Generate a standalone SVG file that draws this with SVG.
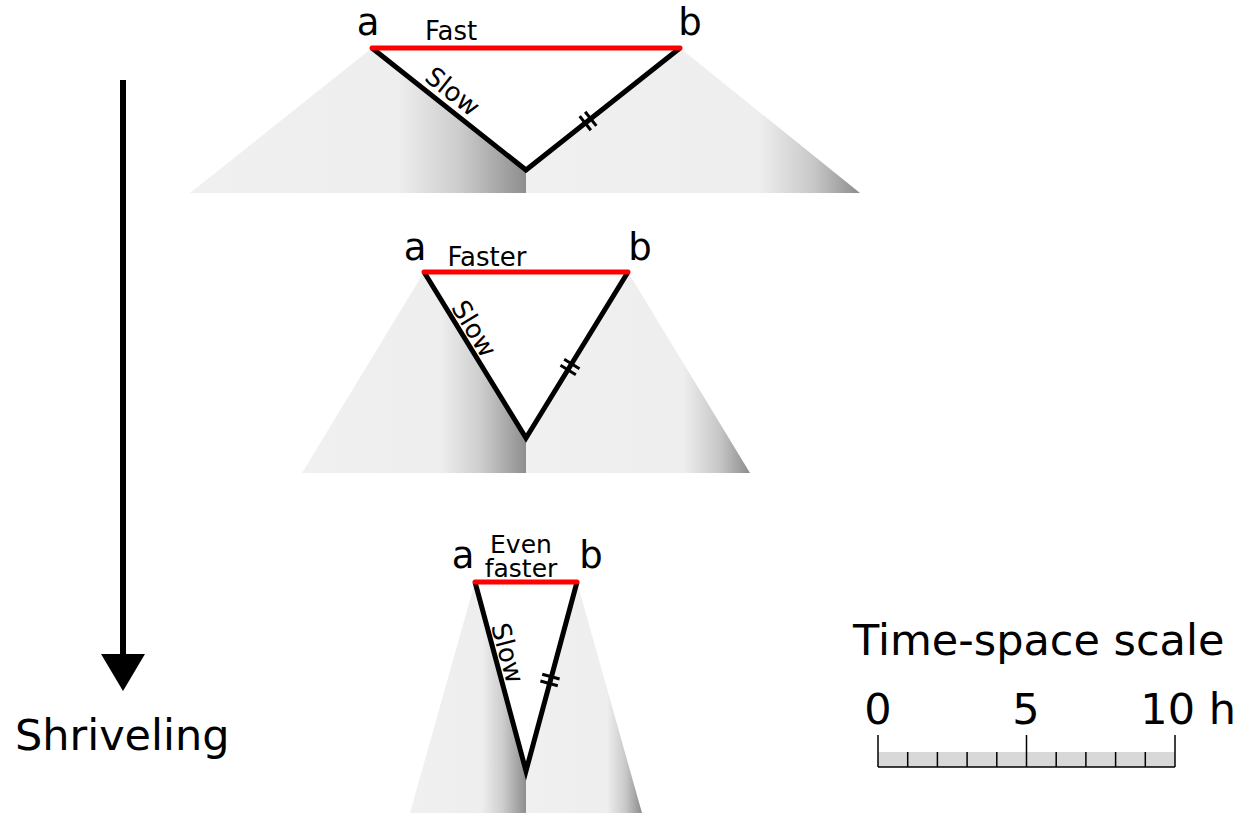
<svg xmlns="http://www.w3.org/2000/svg" width="1241" height="815" viewBox="0 0 1241 815">
  <defs>
    <linearGradient id="gl" x1="0" y1="0" x2="1" y2="0">
      <stop offset="0" stop-color="#f0f0f0"/>
      <stop offset="0.62" stop-color="#eeeeee"/>
      <stop offset="0.8" stop-color="#cdcdcd"/>
      <stop offset="1" stop-color="#8e8e8e"/>
    </linearGradient>
    <linearGradient id="gr" x1="0" y1="0" x2="1" y2="0">
      <stop offset="0" stop-color="#f0f0f0"/>
      <stop offset="0.7" stop-color="#eeeeee"/>
      <stop offset="0.86" stop-color="#c8c8c8"/>
      <stop offset="1" stop-color="#8c8c8c"/>
    </linearGradient>
    <style>
      text { font-family: "DejaVu Sans", "Liberation Sans", sans-serif; fill: #000; }
      .lbl { font-size: 37px; text-anchor: middle; }
      .spd { font-size: 26px; text-anchor: middle; }
      .spd2 { font-size: 25px; text-anchor: middle; }
      .slow { font-size: 26px; text-anchor: middle; }
      .big { font-size: 43px; }
      .fast { stroke: #ff0000; stroke-width: 5; stroke-linecap: round; fill: none; }
      .edge { stroke: #000; stroke-width: 5; stroke-linejoin: miter; fill: none; }
      .hash { stroke: #000; stroke-width: 3; }
      .shl { fill: url(#gl); }
      .shr { fill: url(#gr); }
      .tick { stroke: #000; stroke-width: 1.5; }
    </style>
  </defs>

  <g id="stage1">
    <polygon class="shl" points="372,48 190,193 526,193 526,170"/>
    <polygon class="shr" points="680,48 860,193 526,193 526,170"/>
    <polyline class="edge" points="372,48 526,170 680,48"/>
    <line class="fast" x1="372" y1="48" x2="680" y2="48"/>
    <g transform="translate(588,121) rotate(-38.4)">
      <line class="hash" x1="-3.5" y1="-9" x2="-3.5" y2="9"/>
      <line class="hash" x1="3.5" y1="-9" x2="3.5" y2="9"/>
    </g>
    <text class="lbl" x="368" y="35">a</text>
    <text class="lbl" x="690" y="35">b</text>
    <text class="spd" x="451" y="40">Fast</text>
    <text class="slow" transform="translate(447,98.5) rotate(38.4)">Slow</text>
  </g>

  <g id="stage2">
    <polygon class="shl" points="424,272 302,473 526,473 526,438"/>
    <polygon class="shr" points="628,272 750,473 526,473 526,438"/>
    <polyline class="edge" points="424,272 526,438 628,272"/>
    <line class="fast" x1="424" y1="272" x2="628" y2="272"/>
    <g transform="translate(570,367) rotate(-58.4)">
      <line class="hash" x1="-3.5" y1="-9" x2="-3.5" y2="9"/>
      <line class="hash" x1="3.5" y1="-9" x2="3.5" y2="9"/>
    </g>
    <text class="lbl" x="415" y="260">a</text>
    <text class="lbl" x="640" y="260">b</text>
    <text class="spd" x="487" y="266">Faster</text>
    <text class="slow" transform="translate(466.5,333.5) rotate(58.4)">Slow</text>
  </g>

  <g id="stage3">
    <polygon class="shl" points="475,582 410,813 526,813 526,771"/>
    <polygon class="shr" points="577,582 642,813 526,813 526,771"/>
    <polyline class="edge" points="475,582 526,771 577,582"/>
    <line class="fast" x1="475" y1="582" x2="577" y2="582"/>
    <g transform="translate(550,680) rotate(-74.9)">
      <line class="hash" x1="-3.5" y1="-9" x2="-3.5" y2="9"/>
      <line class="hash" x1="3.5" y1="-9" x2="3.5" y2="9"/>
    </g>
    <text class="lbl" x="463" y="568">a</text>
    <text class="lbl" x="591" y="568">b</text>
    <text class="spd2"><tspan x="521" y="553">Even</tspan><tspan x="521" y="577">faster</tspan></text>
    <text class="slow" transform="translate(499,655.4) rotate(74.9)">Slow</text>
  </g>

  <g id="connectors">
    <line x1="123" y1="80" x2="123" y2="656" stroke="#000" stroke-width="6"/>
    <polygon points="101,654 145,654 123,691" fill="#000"/>
  </g>

  <g id="shriveling-label">
    <text class="big" x="15" y="750">Shriveling</text>
  </g>

  <g id="scale">
    <text class="big" x="853" y="655">Time-space scale</text>
    <text class="big" x="878" y="724" text-anchor="middle">0</text>
    <text class="big" x="1026" y="724" text-anchor="middle">5</text>
    <text class="big" x="1236" y="724" text-anchor="end">10 h</text>
    <rect x="878" y="752" width="297" height="15" fill="#d8d8d8"/>
    <line class="tick" x1="878" y1="767" x2="1175" y2="767"/>
    <line class="tick" x1="878" y1="735" x2="878" y2="767"/>
    <line class="tick" x1="1026.5" y1="735" x2="1026.5" y2="767"/>
    <line class="tick" x1="1175" y1="735" x2="1175" y2="767"/>
    <line class="tick" x1="907.7" y1="752" x2="907.7" y2="767"/>
    <line class="tick" x1="937.4" y1="752" x2="937.4" y2="767"/>
    <line class="tick" x1="967.1" y1="752" x2="967.1" y2="767"/>
    <line class="tick" x1="996.8" y1="752" x2="996.8" y2="767"/>
    <line class="tick" x1="1056.2" y1="752" x2="1056.2" y2="767"/>
    <line class="tick" x1="1085.9" y1="752" x2="1085.9" y2="767"/>
    <line class="tick" x1="1115.6" y1="752" x2="1115.6" y2="767"/>
    <line class="tick" x1="1145.3" y1="752" x2="1145.3" y2="767"/>
  </g>
</svg>
